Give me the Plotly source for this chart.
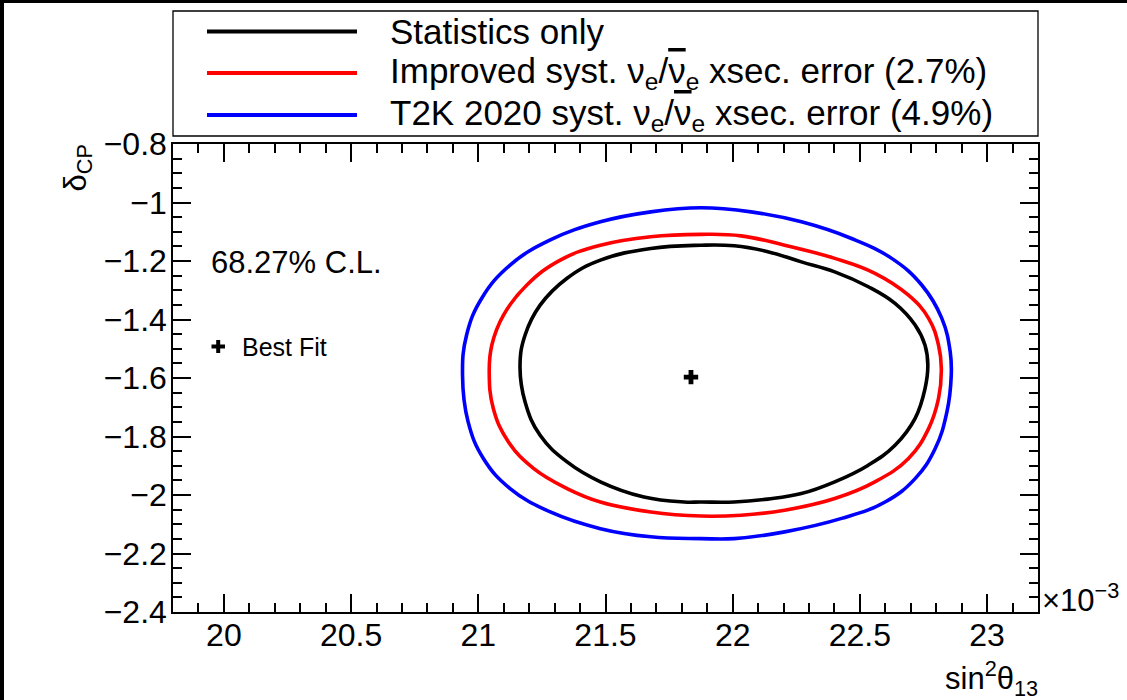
import plotly.graph_objects as go

# ---------------- data (sin^2 theta13 in units of 1e-3, delta_CP) ----------------
stat_x = [21.875, 22.006, 22.138, 22.270, 22.401, 22.533, 22.638, 22.717, 22.756, 22.767,
          22.756, 22.717, 22.638, 22.533, 22.401, 22.270, 22.138, 22.006, 21.875, 21.809,
          21.651, 21.480, 21.349, 21.243, 21.184, 21.164, 21.184, 21.243, 21.349, 21.480,
          21.678, 21.875]
stat_y = [-1.146, -1.148, -1.168, -1.203, -1.237, -1.288, -1.345, -1.419, -1.488, -1.556,
          -1.636, -1.738, -1.830, -1.898, -1.955, -1.995, -2.014, -2.024, -2.024, -2.024,
          -2.007, -1.955, -1.887, -1.796, -1.682, -1.556, -1.453, -1.351, -1.259, -1.197,
          -1.157, -1.146]

impr_x = [21.875, 22.033, 22.204, 22.401, 22.559, 22.691, 22.770, 22.809, 22.820, 22.809,
          22.770, 22.691, 22.559, 22.401, 22.204, 22.033, 21.875, 21.678, 21.480, 21.349,
          21.217, 21.118, 21.059, 21.043, 21.053, 21.099, 21.191, 21.322, 21.480, 21.678,
          21.875]
impr_y = [-1.109, -1.114, -1.146, -1.191, -1.242, -1.317, -1.396, -1.488, -1.567, -1.670,
          -1.773, -1.875, -1.955, -2.012, -2.052, -2.069, -2.072, -2.058, -2.024, -1.978,
          -1.909, -1.818, -1.704, -1.579, -1.488, -1.385, -1.282, -1.197, -1.146, -1.117,
          -1.109]

t2k_x = [21.875, 22.072, 22.270, 22.467, 22.625, 22.743, 22.822, 22.855, 22.859, 22.842,
         22.796, 22.717, 22.599, 22.428, 22.204, 22.006, 21.875, 21.678, 21.480, 21.283,
         21.125, 21.020, 20.960, 20.938, 20.954, 21.013, 21.125, 21.283, 21.480, 21.678,
         21.875]
t2k_y = [-1.018, -1.032, -1.066, -1.123, -1.191, -1.282, -1.396, -1.511, -1.590, -1.716,
         -1.841, -1.944, -2.024, -2.080, -2.126, -2.149, -2.149, -2.143, -2.115, -2.058,
         -1.978, -1.875, -1.750, -1.590, -1.453, -1.328, -1.214, -1.128, -1.066, -1.032,
         -1.018]

best_fit_x = [21.836]
best_fit_y = [-1.597]

NUBAR = '<span style="text-decoration:overline">ν</span>'
series_names = ["Statistics only",
                "Improved syst. ν<sub>e</sub>/" + NUBAR + "<sub>e</sub> xsec. error (2.7%)",
                "T2K 2020 syst. ν<sub>e</sub>/" + NUBAR + "<sub>e</sub> xsec. error (4.9%)"]
series_colors = ["#000000", "#ff0000", "#0000ff"]

x_ticks = [20, 20.5, 21, 21.5, 22, 22.5, 23]
x_ticklabels = ["20", "20.5", "21", "21.5", "22", "22.5", "23"]
y_ticks = [-0.8, -1.0, -1.2, -1.4, -1.6, -1.8, -2.0, -2.2, -2.4]
y_ticklabels = ["−0.8", "−1", "−1.2", "−1.4", "−1.6", "−1.8", "−2", "−2.2", "−2.4"]

# ---------------- layout geometry (pixels) ----------------
W, H = 1127, 700
L, R, T, B = 173, 89, 144, 88
PW, PH = W - L - R, H - T - B
FONT = "Liberation Sans, Arial, Helvetica, sans-serif"


def px(xp):
    return (xp - L) / PW


def py(yp):
    return (H - B - yp) / PH


fig = go.Figure()
for xs, ys, name, col in zip([stat_x, impr_x, t2k_x], [stat_y, impr_y, t2k_y],
                             series_names, series_colors):
    fig.add_trace(go.Scatter(x=xs, y=ys, mode="lines", name=name,
                             line=dict(color=col, width=3.6, shape="spline", smoothing=1.2),
                             showlegend=False, hoverinfo="skip"))

fig.add_trace(go.Scatter(x=best_fit_x, y=best_fit_y, mode="markers", name="Best Fit",
                         marker=dict(symbol="cross", size=12, color="black", line=dict(width=0)),
                         showlegend=False))

shapes = []
annotations = []

# outer black borders (top and left)
shapes.append(dict(type="rect", xref="paper", yref="paper", x0=px(-5), x1=px(W + 5),
                   y0=py(3), y1=py(-5), fillcolor="black", line=dict(width=0), layer="above"))
shapes.append(dict(type="rect", xref="paper", yref="paper", x0=px(-5), x1=px(4),
                   y0=py(H + 5), y1=py(-5), fillcolor="black", line=dict(width=0), layer="above"))

# legend box
shapes.append(dict(type="rect", xref="paper", yref="paper", x0=px(173), x1=px(1038),
                   y0=py(136), y1=py(11), line=dict(color="black", width=1.3),
                   fillcolor="white", layer="above"))
legend_rows = [31.5, 73, 115]
for yrow, name, col in zip(legend_rows, series_names, series_colors):
    shapes.append(dict(type="line", xref="paper", yref="paper", x0=px(207), x1=px(357),
                       y0=py(yrow), y1=py(yrow), line=dict(color=col, width=4), layer="above"))
    annotations.append(dict(xref="paper", yref="paper", x=px(388), y=py(yrow),
                            xanchor="left", yanchor="middle", text=name, showarrow=False,
                            font=dict(family=FONT, size=35, color="black")))

# best-fit key (legend-like, inside frame)
shapes.append(dict(type="line", xref="paper", yref="paper", x0=px(211.5), x1=px(225),
                   y0=py(346.5), y1=py(346.5), line=dict(color="black", width=4), layer="above"))
shapes.append(dict(type="line", xref="paper", yref="paper", x0=px(218.2), x1=px(218.2),
                   y0=py(340), y1=py(353), line=dict(color="black", width=4), layer="above"))
annotations.append(dict(xref="paper", yref="paper", x=px(240), y=py(347), xanchor="left",
                        yanchor="middle", text="Best Fit", showarrow=False,
                        font=dict(family=FONT, size=25, color="black")))
annotations.append(dict(xref="paper", yref="paper", x=px(209), y=py(262), xanchor="left",
                        yanchor="middle", text="68.27% C.L.", showarrow=False,
                        font=dict(family=FONT, size=31, color="black")))

# axis titles
annotations.append(dict(xref="paper", yref="paper", x=px(77), y=py(143), xanchor="center",
                        yanchor="top", textangle=-90, text="δ<sub>CP</sub>", showarrow=False,
                        font=dict(family=FONT, size=31, color="black")))
annotations.append(dict(xref="paper", yref="paper", x=px(1040), y=py(703), xanchor="right",
                        yanchor="bottom", text="sin<sup>2</sup>θ<sub>13</sub>", showarrow=False,
                        font=dict(family=FONT, size=31, color="black")))
annotations.append(dict(xref="paper", yref="paper", x=px(1040), y=py(620), xanchor="left",
                        yanchor="bottom", text="×10<sup>−3</sup>", showarrow=False,
                        font=dict(family=FONT, size=31, color="black")))

axis_common = dict(showline=True, linecolor="black", linewidth=1.5, mirror="ticks",
                   ticks="inside", tickcolor="black", tickwidth=1.5, showgrid=False,
                   zeroline=False, tickfont=dict(family=FONT, size=32, color="black"))

fig.update_layout(
    width=W, height=H,
    margin=dict(l=L, r=R, t=T, b=B, pad=0),
    paper_bgcolor="white", plot_bgcolor="white",
    xaxis=dict(range=[19.8, 23.2], tickvals=x_ticks, ticktext=x_ticklabels, ticklen=18,
               minor=dict(dtick=0.1, tick0=0, ticklen=9, ticks="inside", tickcolor="black",
                          tickwidth=1.5, showgrid=False),
               ticklabelstandoff=-6, **axis_common),
    yaxis=dict(range=[-2.4, -0.8], tickvals=y_ticks, ticktext=y_ticklabels, ticklen=18,
               minor=dict(dtick=0.05, tick0=0, ticklen=9, ticks="inside", tickcolor="black",
                          tickwidth=1.5, showgrid=False),
               ticklabelstandoff=-2, **axis_common),
    shapes=shapes, annotations=annotations,
    showlegend=False,
)

fig.write_html("out.html")
